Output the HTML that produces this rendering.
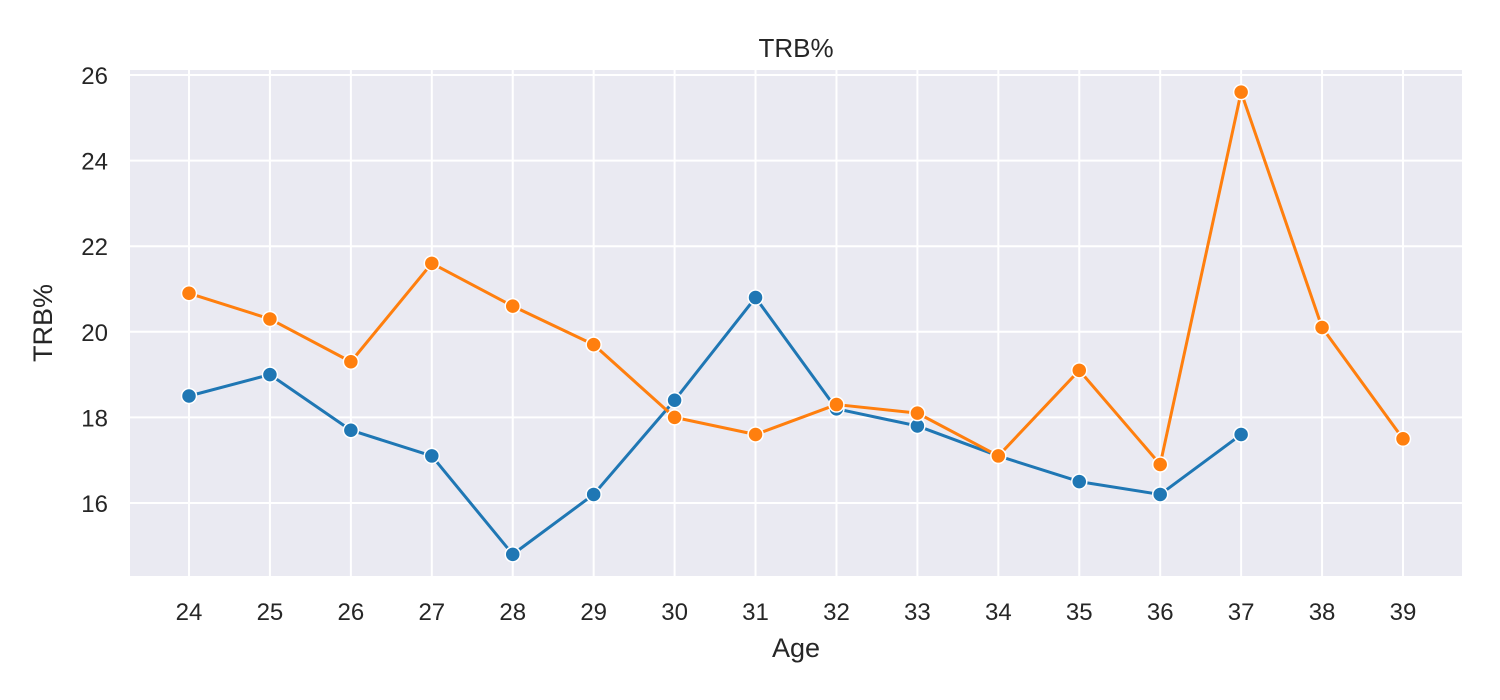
<!DOCTYPE html>
<html><head><meta charset="utf-8"><style>
body{margin:0;background:#fff;}
svg{display:block;font-family:"Liberation Sans","DejaVu Sans",sans-serif;}
</style></head><body>
<svg id="chart" width="1500" height="700">
<rect x="130" y="70" width="1332" height="506" fill="#eaeaf2"/>
<g id="grid"></g>
<g id="ticks"></g>
<g id="series"></g>
<text x="796" y="57" text-anchor="middle" font-size="26" fill="#262626">TRB%</text>
<text x="796" y="657" text-anchor="middle" font-size="27" fill="#262626">Age</text>
<text transform="translate(52,323) rotate(-90)" text-anchor="middle" font-size="27" fill="#262626">TRB%</text>
</svg>
<script>
const ages = [24,25,26,27,28,29,30,31,32,33,34,35,36,37,38,39];
const blueValues = [18.5,19.0,17.7,17.1,14.8,16.2,18.4,20.8,18.2,17.8,17.1,16.5,16.2,17.6];
const orangeValues = [20.9,20.3,19.3,21.6,20.6,19.7,18.0,17.6,18.3,18.1,17.1,19.1,16.9,25.6,20.1,17.5];
const yTicks = [16,18,20,22,24,26];

const NS="http://www.w3.org/2000/svg";
function xs(a){return 189+(a-24)*(1214/15);}
function ys(v){return 503-(v-16)*42.8;}
function mk(tag,attrs,parent){const e=document.createElementNS(NS,tag);for(const k in attrs)e.setAttribute(k,attrs[k]);parent.appendChild(e);return e;}
const grid=document.getElementById('grid'),ticks=document.getElementById('ticks'),series=document.getElementById('series');
ages.forEach(a=>{
  const l=mk('line',{x1:xs(a),x2:xs(a),y1:70,y2:576,stroke:'#fff','stroke-width':2},grid);
  
  
  const t=mk('text',{x:xs(a),y:620,'text-anchor':'middle','font-size':24,fill:'#262626'},ticks);
  t.textContent=a;
  
  
});
yTicks.forEach(v=>{
  const l=mk('line',{x1:130,x2:1462,y1:ys(v),y2:ys(v),stroke:'#fff','stroke-width':2},grid);
  
  
  const t=mk('text',{x:108,y:ys(v)+9,'text-anchor':'end','font-size':24,fill:'#262626'},ticks);
  t.textContent=v;
  
  
});
function draw(vals,color,name){
  const pts=vals.map((v,i)=>xs(ages[i])+','+ys(v)).join(' ');
  const p=mk('polyline',{points:pts,fill:'none',stroke:color,'stroke-width':3,'stroke-linejoin':'round'},series);
  
  
  vals.forEach((v,i)=>{
    const c=mk('circle',{cx:xs(ages[i]),cy:ys(v),r:7.5,fill:color,stroke:'#fff','stroke-width':1.5},series);
    
    
  });
}
draw(blueValues,'#1f77b4','blue-series');
draw(orangeValues,'#ff7f0e','orange-series');
</script>
</body></html>
